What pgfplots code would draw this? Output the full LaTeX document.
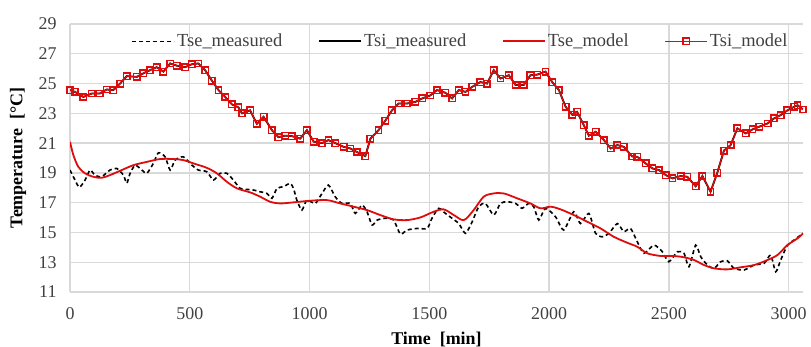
\documentclass[border=0pt]{standalone}
\usepackage{fontspec}
\setmainfont{Liberation Serif}
\usepackage{pgfplots}
\usepackage{pgfplotstable}
\pgfplotsset{compat=1.18}
\definecolor{myred}{RGB}{222,12,12}
\definecolor{gridgray}{RGB}{217,217,217}
\definecolor{txtgray}{RGB}{64,64,64}

\pgfplotstableread{
x y
0 24.56
21 24.44
56 24.10
91 24.33
125 24.33
153 24.60
181 24.56
209 25.00
237 25.50
279 25.45
306 25.68
334 25.90
362 26.10
390 25.80
418 26.35
446 26.20
481 26.10
509 26.30
536 26.35
564 25.90
592 25.20
620 24.56
648 24.10
676 23.60
703 23.40
718 23.00
752 23.20
780 22.30
808 22.77
843 21.87
870 21.40
898 21.50
926 21.47
961 21.30
989 21.87
1017 21.10
1052 21.00
1079 21.20
1107 21.00
1142 20.75
1170 20.64
1198 20.40
1233 20.13
1254 21.30
1288 21.87
1316 22.50
1344 23.20
1372 23.66
1407 23.66
1442 23.77
1470 24.00
1504 24.20
1532 24.56
1567 24.38
1595 24.00
1623 24.56
1651 24.44
1679 24.78
1713 25.10
1741 25.00
1769 25.90
1797 25.34
1832 25.56
1860 24.90
1894 24.90
1922 25.56
1950 25.60
1985 25.80
2013 25.10
2041 24.56
2069 23.44
2097 22.90
2117 23.10
2145 22.20
2166 21.50
2194 21.76
2229 21.20
2257 20.64
2285 20.87
2312 20.75
2347 20.10
2368 20.08
2403 19.64
2431 19.30
2459 19.19
2487 18.85
2515 18.63
2549 18.79
2577 18.74
2612 18.10
2640 18.79
2674 17.73
2702 19.00
2730 20.50
2758 20.87
2786 21.99
2821 21.65
2849 21.92
2877 22.10
2912 22.32
2939 22.66
2967 22.88
2995 23.20
3023 23.44
3037 23.55
3060 23.26
}\tsi

\pgfplotstableread{
x y
0 21.09
14 20.20
35 19.40
63 18.97
97 18.74
132 18.67
167 18.85
209 19.14
265 19.52
321 19.74
376 19.93
432 19.93
473 19.86
515 19.64
571 19.34
613 18.97
655 18.40
697 17.96
752 17.69
794 17.40
836 17.06
878 16.95
933 17.02
1003 17.13
1073 17.17
1128 16.95
1184 16.73
1240 16.50
1295 16.17
1351 15.88
1407 15.83
1463 16.01
1518 16.39
1560 16.55
1602 16.17
1644 15.83
1685 16.50
1727 17.40
1769 17.62
1811 17.62
1867 17.29
1922 16.95
1964 16.62
2006 16.73
2048 16.55
2103 16.17
2159 15.72
2215 15.27
2270 14.71
2326 14.31
2368 14.04
2410 13.60
2466 13.42
2521 13.42
2563 13.33
2605 13.15
2647 12.81
2689 12.59
2744 12.52
2800 12.66
2856 12.81
2912 13.15
2953 13.48
2995 14.15
3037 14.60
3060 14.94
}\tsemodel

\pgfplotstableread{
x y
0 19.19
21 18.52
39 18.03
63 18.52
84 19.19
104 18.85
132 18.74
167 19.19
195 19.30
223 18.85
237 18.30
251 18.97
272 19.52
300 19.19
321 18.97
348 19.64
369 20.35
397 20.08
418 19.19
439 19.86
473 20.08
509 19.52
536 19.19
571 19.08
599 18.52
627 18.97
655 18.97
682 18.52
710 17.96
738 17.89
766 17.85
794 17.73
822 17.62
843 17.29
864 17.96
891 18.07
919 18.30
933 17.96
947 17.17
968 16.50
989 17.17
1024 16.95
1052 17.62
1079 18.18
1107 17.40
1135 16.95
1170 16.95
1191 16.28
1219 16.84
1240 16.39
1261 15.50
1282 15.83
1316 15.95
1351 15.83
1379 14.89
1407 15.16
1449 15.27
1491 15.27
1511 15.95
1539 16.62
1567 16.28
1595 15.95
1623 15.60
1651 14.94
1679 15.72
1706 16.73
1734 16.95
1769 16.17
1797 16.95
1825 17.06
1860 16.95
1887 16.62
1915 16.95
1936 16.73
1957 15.83
1985 16.62
2027 16.05
2061 15.16
2103 16.39
2131 15.60
2166 16.28
2194 14.94
2222 14.71
2250 14.94
2285 15.60
2312 15.05
2340 15.27
2368 14.38
2396 13.60
2438 14.15
2473 13.70
2500 13.03
2535 13.70
2563 13.60
2584 12.70
2612 14.15
2633 13.37
2661 12.81
2689 12.59
2716 13.03
2744 13.10
2772 12.59
2814 12.48
2856 12.81
2898 12.93
2925 13.48
2946 12.36
2967 13.15
2995 14.15
3023 14.49
3060 14.94
}\tsemeas

\begin{document}
\begin{tikzpicture}
\path[use as bounding box] (0,0) rectangle (811bp,347bp);
\begin{axis}[
  at={(70bp,55bp)}, anchor=south west,
  scale only axis, width=733bp, height=268bp,
  xmin=0, xmax=3060, ymin=11, ymax=29,
  xtick={0,500,...,3000}, ytick={11,13,...,29},
  grid=major, major grid style={draw=gridgray, line width=1.4bp},
  axis line style={draw=none}, major tick length=0pt,
  tick label style={font=\fontsize{18}{20}\selectfont, text=txtgray},
  /pgf/number format/assume math mode=true,
  /pgf/number format/set thousands separator={},
  xticklabel style={yshift=-12bp},
  yticklabel style={xshift=-10bp},
  xlabel={\textbf{Time\ \ [min]}},
  ylabel={\textbf{Temperature\ \ [°C]}},
  label style={font=\fontsize{18}{20}\selectfont, text=black},
  xlabel style={at={(axis description cs:0.5,-0.1754)}, anchor=center},
  ylabel style={at={(axis description cs:-0.0709,0.5)}, anchor=center},
  legend columns=4,
  legend style={at={(axis description cs:0.5,1)}, anchor=north, xshift=24bp, yshift=-6bp,
    draw=none, fill=none, font=\fontsize{18.5}{20}\selectfont, text=txtgray,
    /tikz/every even column/.append style={column sep=34bp}},
  legend image code/.code={\draw[mark repeat=2,mark phase=2,#1] plot coordinates {(0bp,0bp) (21bp,0bp) (42bp,0bp)};},
]
\addplot[black, line width=1.6bp, dash pattern=on 4bp off 3bp, smooth, tension=0.4] table[x=x,y=y] {\tsemeas};
\addlegendentry{Tse\_measured}
\addplot[black, line width=1.8bp] table[x=x,y=y] {\tsi};
\addlegendentry{Tsi\_measured}
\addplot[myred, line width=1.8bp, smooth] table[x=x,y=y] {\tsemodel};
\addlegendentry{Tse\_model}
\addplot[myred, line width=1.3bp, mark=square, mark size=3.2bp, mark options={line width=1.5bp, solid}] table[x=x,y=y] {\tsi};
\addlegendentry{Tsi\_model}
\end{axis}
\end{tikzpicture}
\end{document}
